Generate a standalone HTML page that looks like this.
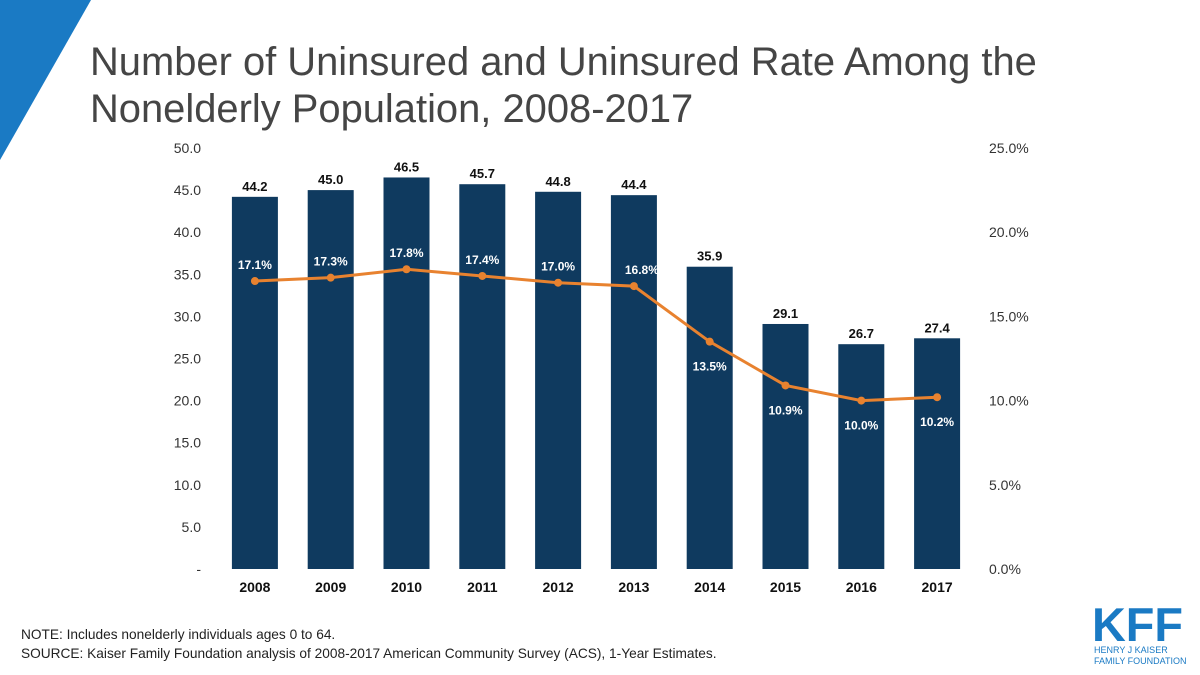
<!DOCTYPE html>
<html><head><meta charset="utf-8"><style>
body{margin:0;width:1200px;height:675px;background:#fff;overflow:hidden;font-family:"Liberation Sans",sans-serif;position:relative}
.title{position:absolute;left:90px;top:39px;font-size:39.9px;line-height:47px;color:#454545}
.note{position:absolute;left:21px;font-size:13.7px;color:#222}
</style></head><body>
<svg width="1200" height="675" style="position:absolute;left:0;top:0">
<polygon points="0,0 91,0 0,160" fill="#1a7ac4"/>
<g id="chart"></g>
<g>
<text x="1092" y="641" font-size="47" font-weight="bold" fill="#1a7ac4" font-family="Liberation Sans" textLength="91" lengthAdjust="spacingAndGlyphs">KFF</text>
<text x="1094" y="653" font-size="9" fill="#1a7ac4" font-family="Liberation Sans">HENRY J KAISER</text>
<text x="1094" y="664" font-size="9" fill="#1a7ac4" font-family="Liberation Sans">FAMILY FOUNDATION</text>
</g>
</svg>
<div class="title">Number of Uninsured and Uninsured Rate Among the<br>Nonelderly Population, 2008-2017</div>
<div class="note" style="top:627px">NOTE: Includes nonelderly individuals ages 0 to 64.</div>
<div class="note" style="top:646px">SOURCE: Kaiser Family Foundation analysis of 2008-2017 American Community Survey (ACS), 1-Year Estimates.</div>
<script>
const years=["2008","2009","2010","2011","2012","2013","2014","2015","2016","2017"];
const uninsured=[44.2,45.0,46.5,45.7,44.8,44.4,35.9,29.1,26.7,27.4];
const rate=[17.1,17.3,17.8,17.4,17.0,16.8,13.5,10.9,10.0,10.2];
const leftTicks=["-","5.0","10.0","15.0","20.0","25.0","30.0","35.0","40.0","45.0","50.0"];
const rightTicks=["0.0%","5.0%","10.0%","15.0%","20.0%","25.0%"];
const NS="http://www.w3.org/2000/svg";
const g=document.getElementById('chart');
const y0=569,y1=148,x0=217,band=75.8;
const yL=v=>y0-(v/50)*(y0-y1);
const yR=v=>y0-(v/25)*(y0-y1);
const xc=i=>x0+band*(i+0.5);
function el(t,a,txt){const e=document.createElementNS(NS,t);for(const k in a)e.setAttribute(k,a[k]);if(txt!=null)e.textContent=txt;g.appendChild(e);return e;}
leftTicks.forEach((t,i)=>{const e=el('text',{x:201,y:yL(i*5)+5,'text-anchor':'end','font-size':14,fill:'#333'},t);

});
rightTicks.forEach((t,i)=>{const e=el('text',{x:989,y:yR(i*5)+5,'font-size':14,fill:'#333'},t);

});
years.forEach((yr,i)=>{
const b=el('rect',{x:xc(i)-23,y:yL(uninsured[i]),width:46,height:y0-yL(uninsured[i]),fill:'#0f3a5f'});


const l=el('text',{x:xc(i),y:yL(uninsured[i])-6,'text-anchor':'middle','font-size':13,'font-weight':'bold',fill:'#111'},uninsured[i].toFixed(1));


const x=el('text',{x:xc(i),y:592,'text-anchor':'middle','font-size':14,'font-weight':'bold',fill:'#111'},yr);


});
const pts=rate.map((v,i)=>xc(i)+','+yR(v)).join(' ');
const ln=el('polyline',{points:pts,fill:'none',stroke:'#e8822f','stroke-width':3});


rate.forEach((v,i)=>{
const c=el('circle',{cx:xc(i),cy:yR(v),r:4,fill:'#e8822f'});


const below=i>=6;
const dx=i==5?8:0;
const t=el('text',{x:xc(i)+dx,y:below?yR(v)+29:yR(v)-12,'text-anchor':'middle','font-size':12,'font-weight':'bold',fill:'#fff'},v.toFixed(1)+'%');


});
</script>
</body></html>
